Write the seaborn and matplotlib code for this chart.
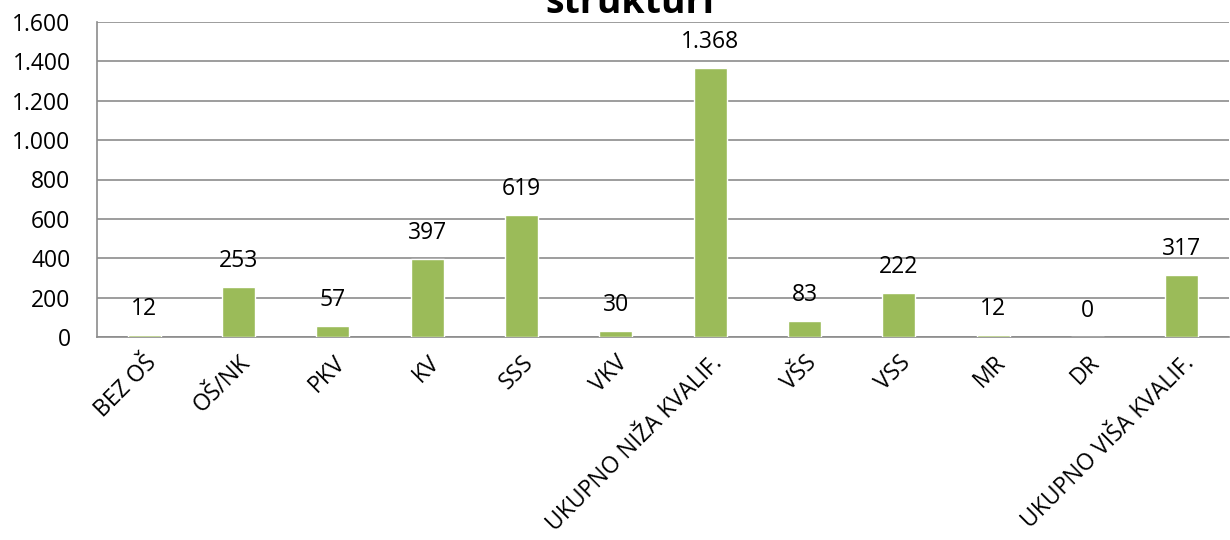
import pandas as pd
import matplotlib.pyplot as plt
import seaborn as sns

# Data
categories = ['BEZ OŠ', 'OŠ/NK', 'PKV', 'KV', 'SSS', 'VKV', 'UKUPNO NIŽA KVALIF.',
              'VŠS', 'VSS', 'MR', 'DR', 'UKUPNO VIŠA KVALIF.']
values = [12, 253, 57, 397, 619, 30, 1368, 83, 222, 12, 0, 317]
y_ticks = [0, 200, 400, 600, 800, 1000, 1200, 1400, 1600]

df = pd.DataFrame({'kategorija': categories, 'broj': values})

sns.set_style('white')
plt.rcParams['font.family'] = ['Open Sans', 'DejaVu Sans']
plt.rcParams['text.color'] = 'black'
plt.rcParams['xtick.color'] = 'black'
plt.rcParams['ytick.color'] = 'black'

fig = plt.figure(figsize=(12.3, 5.4), dpi=100)
ax = fig.add_axes([97 / 1230, 1 - 337 / 540, 1 - 97 / 1230 - 1 / 1230, 315 / 540])

sns.barplot(data=df, x='kategorija', y='broj', color='#9BBB59', width=0.35,
            saturation=1, ax=ax, zorder=3)

def fmt(v):
    return f'{v:,}'.replace(',', '.')

# value labels above bars
for i, v in enumerate(values):
    ax.annotate(fmt(v), (i, v), xytext=(0, 10), textcoords='offset points',
                ha='center', va='bottom', fontsize=16.5, color='black')

ax.set_ylim(0, 1600)
ax.set_yticks(y_ticks)
ax.set_yticklabels([fmt(t) for t in y_ticks], fontsize=16.5)
ax.set_xlim(-0.5, len(categories) - 0.5)
ax.grid(axis='y', color='#8C8C8C', linewidth=1.2, zorder=0)
ax.set_xlabel('')
ax.set_ylabel('')

for side in ['top', 'right']:
    ax.spines[side].set_visible(False)
for side in ['left', 'bottom']:
    ax.spines[side].set_color('#8C8C8C')
    ax.spines[side].set_linewidth(1.2)

ax.tick_params(axis='y', length=0, pad=19)
ax.tick_params(axis='x', length=0, pad=10)
plt.setp(ax.get_xticklabels(), rotation=45, ha='right', rotation_mode='anchor',
         fontsize=16.5)

# title, partly cut off at the top like the reference
fig.text(630 / 1230, 1 - 13 / 540, 'strukturi', ha='center', va='baseline',
         fontsize=27, fontweight='bold')

fig.savefig('out.png', dpi=100)
